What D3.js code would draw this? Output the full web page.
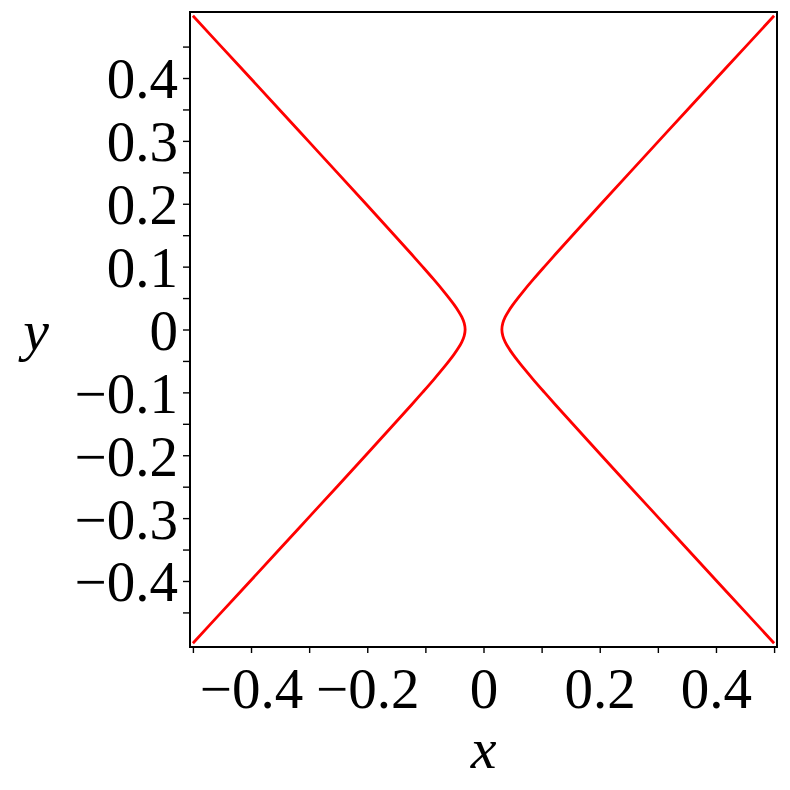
<!DOCTYPE html>
<html>
<head>
<meta charset="utf-8">
<script src="https://cdn.jsdelivr.net/npm/d3@7"></script>
<style>
    body { margin: 0; background: #fff; }
    text { font-family: "Liberation Serif", "Times New Roman", serif; fill: #000; }
</style>
</head>
<body>
<div id="chart"></div>
<script>
// curve samples (right branch, left branch)
var branchY = [-0.499, -0.45, -0.4, -0.35, -0.3, -0.25, -0.2, -0.15, -0.12, -0.1, -0.08, -0.06, -0.05, -0.04, -0.03, -0.02, -0.01,
    0, 0.01, 0.02, 0.03, 0.04, 0.05, 0.06, 0.08, 0.1, 0.12, 0.15, 0.2, 0.25, 0.3, 0.35, 0.4, 0.45, 0.499];
var rightX = [0.5, 0.4511, 0.4012, 0.3514, 0.3017, 0.252, 0.2025, 0.1533, 0.1241, 0.1049, 0.086, 0.0678, 0.0592, 0.051, 0.0436, 0.0374, 0.0332,
    0.0316, 0.0332, 0.0374, 0.0436, 0.051, 0.0592, 0.0678, 0.086, 0.1049, 0.1241, 0.1533, 0.2025, 0.252, 0.3017, 0.3514, 0.4012, 0.4511, 0.5];
var leftX = [-0.5, -0.4511, -0.4012, -0.3514, -0.3017, -0.252, -0.2025, -0.1533, -0.1241, -0.1049, -0.086, -0.0678, -0.0592, -0.051, -0.0436, -0.0374, -0.0332,
    -0.0316, -0.0332, -0.0374, -0.0436, -0.051, -0.0592, -0.0678, -0.086, -0.1049, -0.1241, -0.1533, -0.2025, -0.252, -0.3017, -0.3514, -0.4012, -0.4511, -0.5];

var xTicks = [-0.5, -0.4, -0.3, -0.2, -0.1, 0, 0.1, 0.2, 0.3, 0.4, 0.5];
var xLabels = [-0.4, -0.2, 0, 0.2, 0.4];
var yTicks = [-0.45, -0.4, -0.35, -0.3, -0.25, -0.2, -0.15, -0.1, -0.05, 0, 0.05, 0.1, 0.15, 0.2, 0.25, 0.3, 0.35, 0.4, 0.45];
var yLabels = [-0.4, -0.3, -0.2, -0.1, 0, 0.1, 0.2, 0.3, 0.4];

var width = 790,
    height = 790,
    plotL = 190, plotR = 777, plotT = 12, plotB = 647;

var x = d3.scaleLinear().domain([-0.505, 0.505]).range([plotL, plotR]);
var y = d3.scaleLinear().domain([-0.505, 0.505]).range([plotB, plotT]);

function fmt(d) {
    if (Math.abs(d) < 1e-9) return "0";
    return (d < 0 ? "\u2212" : "") + Math.abs(d).toFixed(1);
}
function has(list, d) {
    return list.some(function (v) { return Math.abs(v - d) < 1e-9; });
}

var svg = d3.select("#chart").append("svg")
    .attr("width", width)
    .attr("height", height);

// x axis
var gx = svg.append("g")
    .attr("transform", "translate(0," + plotB + ")")
    .call(d3.axisBottom(x).tickValues(xTicks).tickSize(6).tickSizeOuter(0)
        .tickFormat(function (d) { return has(xLabels, d) ? fmt(d) : ""; }));
gx.select(".domain").remove();
gx.selectAll("line").attr("stroke", "#000").attr("stroke-width", 1.4);
gx.selectAll("text")
    .attr("font-family", "Liberation Serif")
    .attr("font-size", 57)
    .attr("y", 61)
    .attr("dy", 0);

// y axis
var gy = svg.append("g")
    .attr("transform", "translate(" + plotL + ",0)")
    .call(d3.axisLeft(y).tickValues(yTicks).tickSize(7).tickSizeOuter(0)
        .tickFormat(function (d) { return has(yLabels, d) ? fmt(d) : ""; }));
gy.select(".domain").remove();
gy.selectAll("line").attr("stroke", "#000").attr("stroke-width", 1.4);
gy.selectAll("text")
    .attr("font-family", "Liberation Serif")
    .attr("font-size", 57)
    .attr("x", -12)
    .attr("dy", "0.35em");

// frame
svg.append("rect")
    .attr("x", plotL)
    .attr("y", plotT)
    .attr("width", plotR - plotL)
    .attr("height", plotB - plotT)
    .attr("fill", "none")
    .attr("stroke", "#000")
    .attr("stroke-width", 2);

// curves
var line = d3.line()
    .x(function (d) { return x(d[0]); })
    .y(function (d) { return y(d[1]); })
    .curve(d3.curveCatmullRom);

[rightX, leftX].forEach(function (xs) {
    svg.append("path")
        .datum(xs.map(function (v, i) { return [v, branchY[i]]; }))
        .attr("d", line)
        .attr("fill", "none")
        .attr("stroke", "#ff0000")
        .attr("stroke-width", 2.8);
});

// axis titles
svg.append("text")
    .attr("x", x(0))
    .attr("y", 768)
    .attr("text-anchor", "middle")
    .attr("font-size", 58)
    .attr("font-style", "italic")
    .text("x");

svg.append("text")
    .attr("x", 36)
    .attr("y", 350)
    .attr("text-anchor", "middle")
    .attr("font-size", 58)
    .attr("font-style", "italic")
    .text("y");
</script>
</body>
</html>
